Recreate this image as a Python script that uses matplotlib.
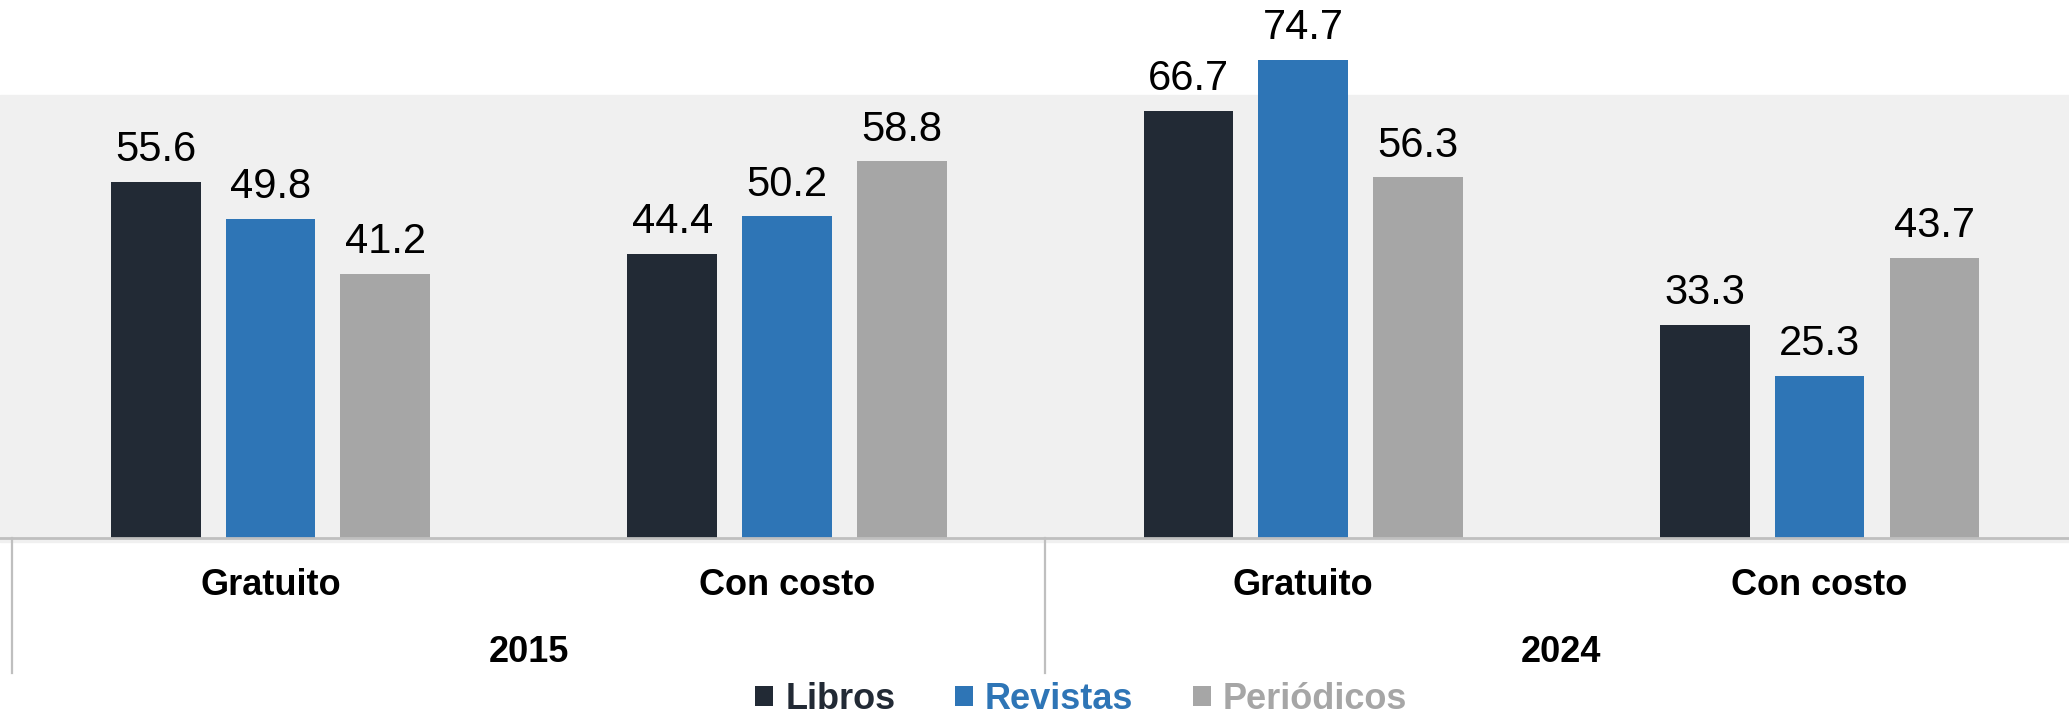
import matplotlib
matplotlib.use('Agg')
import matplotlib.pyplot as plt
from matplotlib.patches import Patch
import numpy as np

# ---- data ----
categories = ['Gratuito', 'Con costo', 'Gratuito', 'Con costo']
years = ['2015', '2024']
series = ['Libros', 'Revistas', 'Periódicos']
libros = [55.6, 44.4, 66.7, 33.3]
revistas = [49.8, 50.2, 74.7, 25.3]
periodicos = [41.2, 58.8, 56.3, 43.7]

colors = ['#222A35', '#2E75B6', '#A6A6A6']
text_colors = ['#222A35', '#2E75B6', '#A6A6A6']

plt.rcParams['font.family'] = ['Liberation Sans', 'DejaVu Sans']

fig = plt.figure(figsize=(20.69, 7.18), dpi=100)
ax = fig.add_axes([0, (718-538)/718, 1, 538/718])
ax.set_facecolor('white')

x = np.arange(len(categories))
off = 0.2223
w = 0.1738
ax.set_xlim(-0.524, 3.483)
ax.set_ylim(0, 84.0)

# grey plot area
ax.axhspan(-0.6, 69.2, color='#F0F0F0', zorder=0, clip_on=False)

for i, vals in enumerate([libros, revistas, periodicos]):
    xs = x + (i - 1) * off
    ax.bar(xs, vals, width=w, color=colors[i], zorder=2, clip_on=False)
    for xx, v in zip(xs, vals):
        ax.annotate('%.1f' % v, (xx, v), xytext=(0, 15), textcoords='offset points',
                    ha='center', va='baseline', fontsize=30, color='black')

# baseline and separators
ax.axhline(0, color='#BFBFBF', lw=2, zorder=3, clip_on=False)
for sx in [-0.5, 1.5]:
    ax.plot([sx, sx], [0, -21.1], color='#BFBFBF', lw=1.6, clip_on=False, zorder=3)

for xx, c in zip(x, categories):
    ax.text(xx, -7.4, c, ha='center', va='center', fontsize=26, fontweight='bold')
for j, yr in enumerate(years):
    ax.text(0.5 + 2 * j, -17.9, yr, ha='center', va='center', fontsize=26, fontweight='bold')

for s in ax.spines.values():
    s.set_visible(False)
ax.set_xticks([]); ax.set_yticks([])

handles = [Patch(facecolor=c, edgecolor='none') for c in colors]
leg = fig.legend(handles, series, loc='center', bbox_to_anchor=(0.5225, 0.026), ncol=3,
                 frameon=False, handlelength=0.51, handleheight=0.51, handletextpad=0.33,
                 columnspacing=1.64, prop={'size': 26, 'weight': 'bold'},
                 labelcolor=text_colors, borderpad=0, borderaxespad=0)

fig.savefig('out.png', dpi=100)
